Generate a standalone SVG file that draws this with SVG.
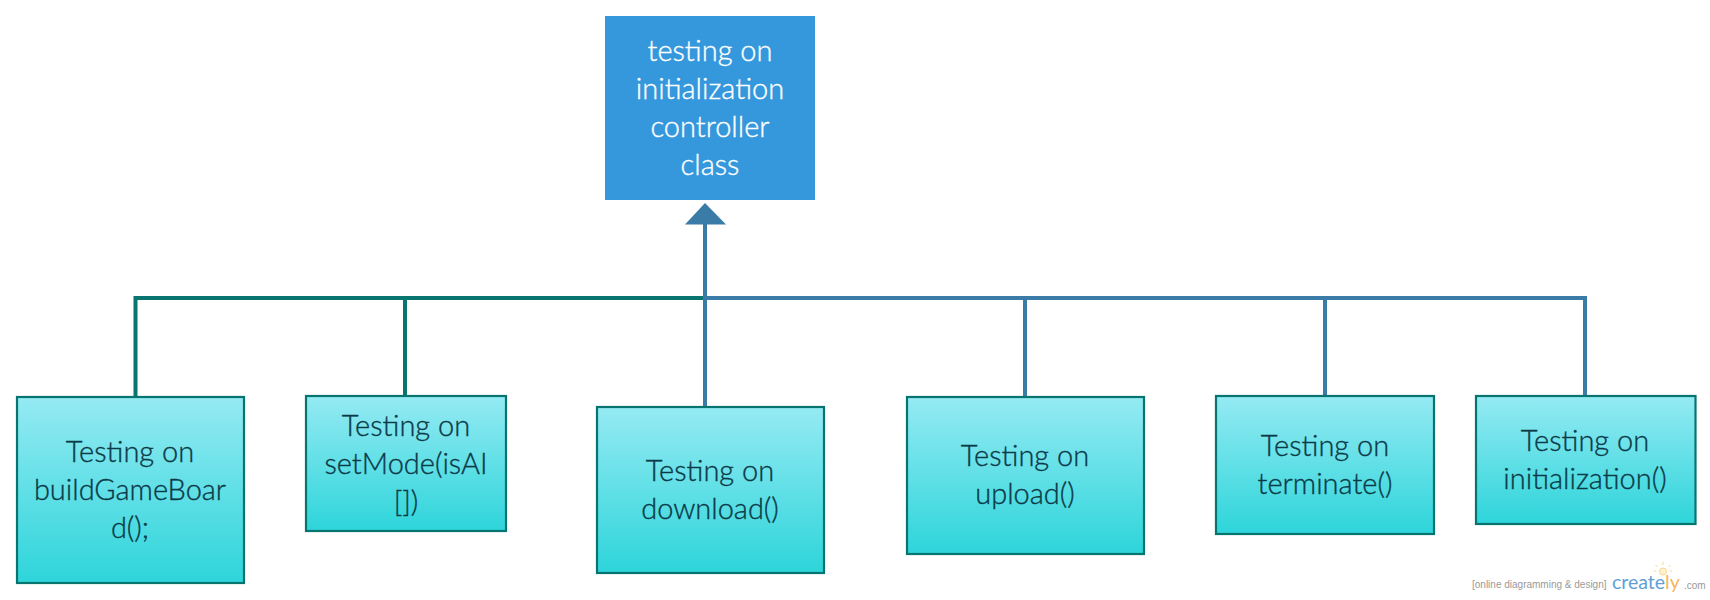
<svg xmlns="http://www.w3.org/2000/svg" width="1710" height="600" viewBox="0 0 1710 600">
<style>
.box{fill:url(#g);stroke:#07746f;stroke-width:2.2}
.t{font-family:Lato,"Open Sans",sans-serif;font-size:29px;font-weight:300;fill:#0b3a47;stroke:#0b3a47;stroke-width:.35;text-anchor:middle}
.w{fill:#fff;stroke:#fff}
.c{fill:none;stroke-width:4}
.teal{stroke:#08756f}
.blue{stroke:#3a7ca7}
</style>
<defs><linearGradient id="g" x1="0" y1="0" x2="0" y2="1"><stop offset="0" stop-color="#95eaf3"/><stop offset="1" stop-color="#2dd5da"/></linearGradient></defs>
<rect width="1710" height="600" fill="#fff"/>
<g id="connectors">
<path class="c teal" d="M135.500 397V298H705M405 298V396"/>
<path class="c blue" d="M705 407V222M705 298H1585V396M1025 298V397M1325 298V396"/>
<path d="M705 203L726 224.500H685Z" fill="#3a7ca7"/>
</g>
<g id="root"><rect x="605" y="16" width="210" height="184" fill="#3598dc"/>
<text class="t w" x="710" y="61">testing on</text><text class="t w" x="710" y="99">initialization</text><text class="t w" x="710" y="137">controller</text><text class="t w" x="710" y="175">class</text></g>
<g id="n1"><rect class="box" x="17" y="397" width="227" height="186"/>
<text class="t" x="130" y="462">Testing on</text><text class="t" x="130" y="500">buildGameBoar</text><text class="t" x="130" y="538">d();</text></g>
<g id="n2"><rect class="box" x="306" y="396" width="200" height="135"/>
<text class="t" x="406" y="436">Testing on</text><text class="t" x="406" y="474">setMode(isAI</text><text class="t" x="406" y="512">[])</text></g>
<g id="n3"><rect class="box" x="597" y="407" width="227" height="166"/>
<text class="t" x="710" y="481">Testing on</text><text class="t" x="710" y="519">download()</text></g>
<g id="n4"><rect class="box" x="907" y="397" width="237" height="157"/>
<text class="t" x="1025" y="466">Testing on</text><text class="t" x="1025" y="504">upload()</text></g>
<g id="n5"><rect class="box" x="1216" y="396" width="218" height="138"/>
<text class="t" x="1325" y="456">Testing on</text><text class="t" x="1325" y="494">terminate()</text></g>
<g id="n6"><rect class="box" x="1476" y="396" width="219.500" height="128"/>
<text class="t" x="1585" y="451">Testing on</text><text class="t" x="1585" y="489">initialization()</text></g>
<g id="watermark">
<text x="1472" y="588" font-family="Liberation Sans,Arial,sans-serif" font-size="10" fill="#999">[online diagramming &amp; design]</text>
<text x="1612" y="589" font-family="Lato,sans-serif" font-size="19.500" fill="#5f9fd6">create<tspan fill="#f7b45c">ly</tspan></text>
<text x="1684" y="589" font-family="Liberation Sans,Arial,sans-serif" font-size="10" fill="#999">.com</text>
<circle cx="1663" cy="571.500" r="3.500" fill="#fff3cf" stroke="#fbd48e"/>
<path d="M1663 562v3M1655.500 565l2 2M1670.500 565l-2 2M1654 571h2.500M1672 571h-2.500" stroke="#fbd48e" fill="none"/>
</g>
</svg>
